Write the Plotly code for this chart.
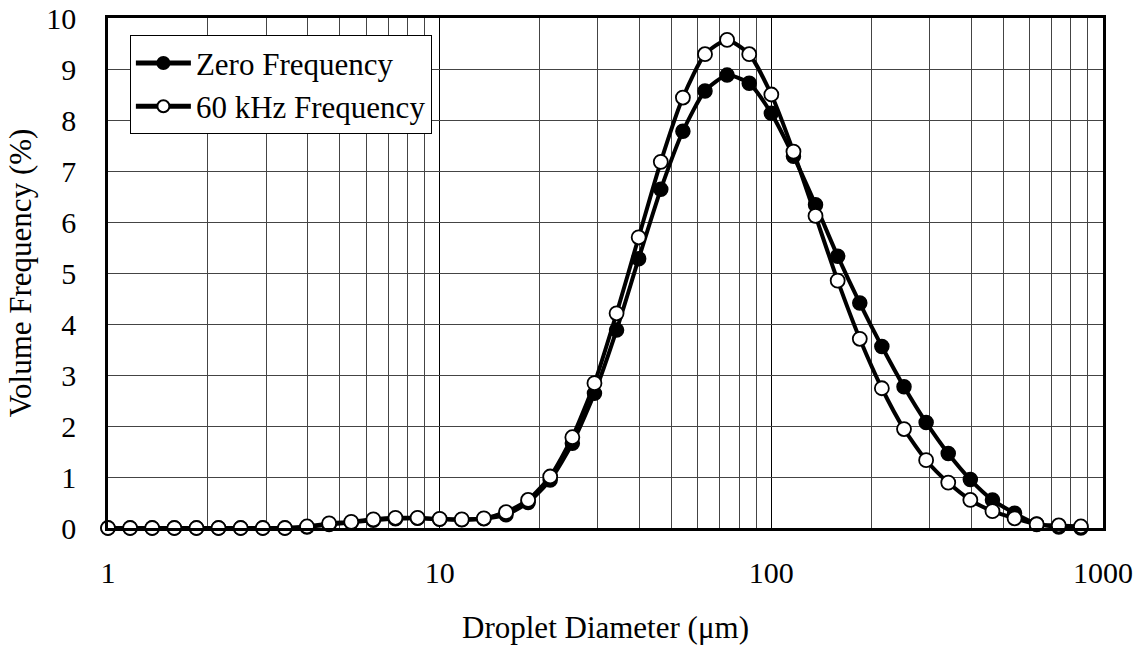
import plotly.graph_objects as go

diameter_um = [1.0, 1.166, 1.359, 1.585, 1.848, 2.154, 2.512, 2.929, 3.415, 3.981,
               4.642, 5.412, 6.310, 7.356, 8.577, 10.0, 11.66, 13.59, 15.85, 18.48,
               21.54, 25.12, 29.29, 34.15, 39.81, 46.42, 54.12, 63.10, 73.56, 85.77,
               100.0, 116.6, 135.9, 158.5, 184.8, 215.4, 251.2, 292.9, 341.5, 398.1,
               464.2, 541.2, 631.0, 735.6, 857.7]

zero_freq = [0, 0, 0, 0, 0, 0, 0, 0, 0, 0.02,
             0.07, 0.11, 0.15, 0.18, 0.19, 0.17, 0.16, 0.18, 0.26, 0.50,
             0.94, 1.66, 2.64, 3.88, 5.28, 6.64, 7.78, 8.57, 8.88, 8.72,
             8.13, 7.29, 6.34, 5.33, 4.41, 3.56, 2.77, 2.07, 1.46, 0.95,
             0.55, 0.29, 0.08, 0.02, 0.0]

khz60_freq = [0, 0, 0, 0, 0, 0, 0, 0, 0, 0.03,
              0.09, 0.12, 0.17, 0.20, 0.20, 0.18, 0.17, 0.19, 0.31, 0.55,
              1.01, 1.78, 2.84, 4.21, 5.70, 7.18, 8.44, 9.29, 9.57, 9.29,
              8.50, 7.38, 6.12, 4.85, 3.71, 2.74, 1.94, 1.33, 0.89, 0.55,
              0.33, 0.19, 0.07, 0.05, 0.03]

y_ticks = [0, 1, 2, 3, 4, 5, 6, 7, 8, 9, 10]
x_ticks = [1, 10, 100, 1000]

FONT = "Liberation Serif"

fig = go.Figure()
fig.add_trace(go.Scatter(
    x=diameter_um, y=zero_freq, name="Zero Frequency", mode="lines+markers",
    line=dict(color="black", width=4, shape="spline", smoothing=0.6),
    marker=dict(symbol="circle", size=14, color="black", line=dict(color="black", width=1.5)),
    cliponaxis=False,
))
fig.add_trace(go.Scatter(
    x=diameter_um, y=khz60_freq, name="60 kHz Frequency", mode="lines+markers",
    line=dict(color="black", width=4, shape="spline", smoothing=0.6),
    marker=dict(symbol="circle", size=14, color="white", line=dict(color="black", width=1.8)),
    cliponaxis=False,
))

fig.update_layout(
    width=1145, height=645,
    margin=dict(l=108, r=42, t=18, b=117),
    paper_bgcolor="white", plot_bgcolor="white",
    font=dict(family=FONT, size=30, color="black"),
    showlegend=True,
    legend=dict(
        x=0.022, y=0.966, xanchor="left", yanchor="top",
        bgcolor="white", bordercolor="black", borderwidth=1,
        font=dict(family=FONT, size=31, color="black"),
        tracegroupgap=0, itemsizing="constant", itemwidth=55,
    ),
    xaxis=dict(
        type="log", range=[0, 3], automargin=False,
        tickvals=x_ticks, ticktext=[str(v) for v in x_ticks],
        tickfont=dict(family=FONT, size=30),
        showgrid=True, gridcolor="black", gridwidth=1,
        minor=dict(dtick="D1", showgrid=True, gridcolor="#444444", gridwidth=1, ticks=""),
        showline=True, linecolor="black", linewidth=2.5, mirror=True,
        ticks="", ticklabelstandoff=16,
        zeroline=False,
        title=dict(text="Droplet Diameter (μm)", font=dict(family=FONT, size=31), standoff=29),
    ),
    yaxis=dict(
        range=[0, 10], tickvals=y_ticks, automargin=False,
        tickfont=dict(family=FONT, size=30),
        showgrid=True, gridcolor="#444444", gridwidth=1,
        showline=True, linecolor="black", linewidth=2.5, mirror=True,
        ticks="", ticklabelstandoff=23,
        zeroline=False,
        title=dict(text="Volume Frequency (%)", font=dict(family=FONT, size=31), standoff=6),
    ),
)

fig.write_html("out.html")
